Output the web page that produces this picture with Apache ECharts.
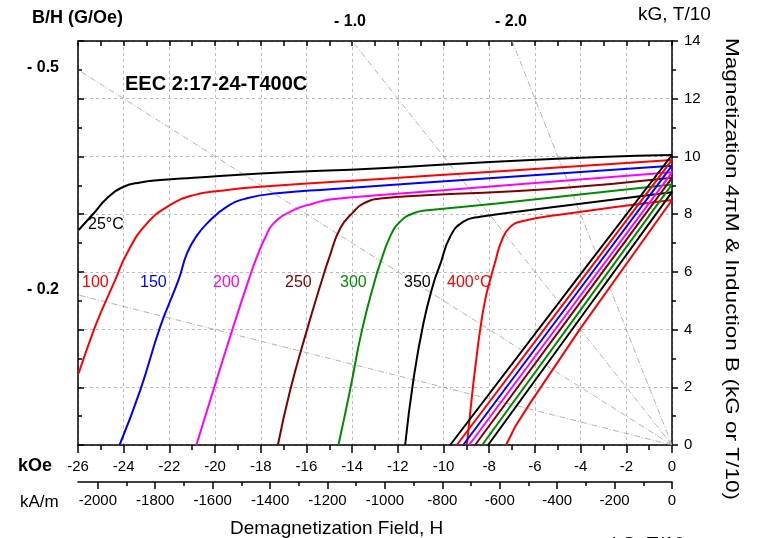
<!DOCTYPE html>
<html><head><meta charset="utf-8">
<script src="https://cdn.jsdelivr.net/npm/echarts/dist/echarts.min.js"></script>
<style>html,body{margin:0;padding:0;background:#fff}#c{width:757px;height:538px}</style>
</head><body><div id="c"></div>
<script>
// ---------- data (H in kOe, B / 4piM in kG) ----------
const temperatures = ['25°C', '100', '150', '200', '250', '300', '350', '400°C'];

// intrinsic (4πM) demagnetization curves
const M25  = [[-25.97,7.45],[-25.31,8.03],[-24.73,8.55],[-24.0,8.95],[-23.27,9.10],[-22.4,9.18],[-20.94,9.26],[-18.02,9.41],[-12.77,9.59],[-7.96,9.81],[-3.15,9.98],[0,10.05]];
const M100 = [[-25.97,2.49],[-25.31,3.98],[-24.95,4.68],[-24.37,5.72],[-23.86,6.64],[-22.98,7.68],[-21.96,8.32],[-20.94,8.66],[-19.77,8.81],[-18.02,8.95],[-12.77,9.22],[-7.52,9.49],[0,9.88]];
const M150 = [[-24.18,0],[-23.27,1.91],[-22.4,4.10],[-21.6,5.72],[-21.23,6.64],[-20.8,7.25],[-20.35,7.68],[-19.48,8.26],[-18.6,8.55],[-17.29,8.72],[-14.96,8.86],[-7.52,9.27],[0,9.68]];
const M200 = [[-20.82,0],[-20.07,1.91],[-19.25,3.98],[-18.53,5.72],[-18.17,6.52],[-17.8,7.2],[-17.44,7.68],[-16.57,8.14],[-15.69,8.37],[-14.96,8.51],[-12.77,8.66],[-7.52,8.98],[0,9.45]];
const M250 = [[-17.25,0],[-16.71,1.91],[-15.98,3.98],[-15.32,5.72],[-15.0,6.5],[-14.52,7.51],[-13.94,8.08],[-13.5,8.37],[-12.77,8.54],[-10.59,8.66],[-5.34,8.87],[0,9.26]];
const M300 = [[-14.6,0],[-14.09,1.91],[-13.57,3.98],[-13.0,5.72],[-12.77,6.3],[-12.34,7.22],[-11.9,7.74],[-11.32,8.03],[-10.59,8.14],[-7.67,8.37],[0,9.03]];
const M350 = [[-11.68,0],[-11.32,2.25],[-10.88,4.22],[-10.44,5.6],[-10.15,6.25],[-9.71,7.22],[-9.13,7.74],[-8.4,7.91],[-6.21,8.14],[0,8.76]];
const M400 = [[-8.98,0],[-8.76,1.67],[-8.57,2.95],[-8.4,3.98],[-8.18,5.02],[-7.96,5.72],[-7.74,6.34],[-7.48,7.03],[-7.09,7.55],[-6.52,7.76],[-4.77,8.0],[0,8.49]];

// normal (B) demagnetization curves
const B25  = [[0,10.05],[-4,5.92],[-9.71,0]];
const B100 = [[0,9.88],[-4,5.68],[-9.42,0]];
const B150 = [[0,9.68],[-4,5.44],[-9.14,0]];
const B200 = [[0,9.45],[-4,5.19],[-8.88,0]];
const B250 = [[0,9.26],[-4,4.96],[-8.62,0]];
const B300 = [[0,9.03],[-4,4.68],[-8.31,0]];
const B350 = [[0,8.76],[-4,4.41],[-8.05,0]];
const B400 = [[0,8.49],[-4,4.05],[-6.21,1.45],[-6.87,0.63],[-7.26,0]];

// load lines B/H (end points, all start at origin)
const loadLineOrigin = [0, 0];
const loadLineEnds = [[-26, 5.2], [-26, 13], [-14, 14], [-7, 14]];
const loadLineLabels = ['- 0.2', '- 0.5', '- 1.0', '- 2.0'];

// axes
const kOeMin = -26, kOeMax = 0, kOeStep = 2;
const fieldMin = 0, fieldMax = 14, fieldStep = 2;
const kAmPerkOe = 79.5775;
const kAmTicks = [-2000,-1800,-1600,-1400,-1200,-1000,-800,-600,-400,-200,0];
const kAmMinorTicks = [-1900,-1700,-1500,-1300,-1100,-900,-700,-500,-300,-100];

// ---------- styles ----------
const colors = ['#000000','#ff0000','#0000ff','#ff00ff','#800000','#008a00','#000000','#ff0000'];
const intrinsic = [M25,M100,M150,M200,M250,M300,M350,M400];
const normal = [B25,B100,B150,B200,B250,B300,B350,B400];
const FONT = 'Liberation Sans, Arial, sans-serif';

const chart = echarts.init(document.getElementById('c'), null, {renderer:'canvas'});

const series = [];
loadLineEnds.forEach(function(e){
  series.push({type:'line', data:[loadLineOrigin, e], symbol:'none', silent:true, z:1,
    lineStyle:{color:'#a0a0a0', width:0.8, type:[6,2,1,2]}});
});
intrinsic.forEach(function(d,i){
  series.push({type:'line', name:temperatures[i], data:d, symbol:'none', smooth:0.5, z:3,
    lineStyle:{color:colors[i], width:2}});
});
normal.forEach(function(d,i){
  series.push({type:'line', name:temperatures[i]+' B', data:d, symbol:'none', z:3,
    lineStyle:{color:colors[i], width:2}});
});

const axLine = {show:true, onZero:false, lineStyle:{color:'#000', width:1.5}};
const tickStyle = {color:'#000', width:1.5};
const grid = {left:78, right:85, top:41, bottom:93, outerBoundsMode:'none', containLabel:false};

// text annotations
function txt(x, y, s, opt){
  return {type:'text', x:x, y:y, z:10, style:Object.assign({text:s, fill:'#000', font:'16px '+FONT, textVerticalAlign:'middle'}, opt||{})};
}
const rtitle = 'Magnetization 4πM & Induction B (kG or T/10)';
const mctx = document.createElement('canvas').getContext('2d');
mctx.font = '19px Liberation Sans';
const rW = mctx.measureText(rtitle).width;

const graphics = [
  txt(32, 18, 'B/H (G/Oe)', {font:'bold 18px '+FONT}),
  txt(350, 22, loadLineLabels[2], {font:'bold 16px '+FONT, textAlign:'center'}),
  txt(511, 22, loadLineLabels[3], {font:'bold 16px '+FONT, textAlign:'center'}),
  txt(27, 68, loadLineLabels[1], {font:'bold 16px '+FONT}),
  txt(27, 290, loadLineLabels[0], {font:'bold 16px '+FONT}),
  txt(638, 15, 'kG, T/10', {font:'19px '+FONT}),
  txt(125, 84, 'EEC 2:17-24-T400C', {font:'bold 20px '+FONT}),
  txt(18, 466, 'kOe', {font:'bold 18px '+FONT}),
  txt(20, 502, 'kA/m', {font:'17px '+FONT}),
  txt(230, 538, 'Demagnetization Field, H', {font:'19px '+FONT, textVerticalAlign:'bottom'}),
  txt(612, 535, 'kG, T/10', {font:'19px '+FONT, textVerticalAlign:'top'}),
  txt(88, 225, temperatures[0], {fill:colors[0]}),
  txt(82, 283, temperatures[1], {fill:colors[1]}),
  txt(140, 283, temperatures[2], {fill:colors[2]}),
  txt(213, 283, temperatures[3], {fill:colors[3]}),
  txt(285, 283, temperatures[4], {fill:colors[4]}),
  txt(340, 283, temperatures[5], {fill:colors[5]}),
  txt(404, 283, temperatures[6], {fill:colors[6]}),
  txt(447, 283, temperatures[7], {fill:colors[7]}),
  {type:'text', x:731, y:269, rotation:-Math.PI/2, scaleX:462/rW, z:10,
   style:{text:rtitle, fill:'#000', font:'19px '+FONT, textAlign:'center', textVerticalAlign:'middle'}}
];

chart.setOption({
  animation:false,
  backgroundColor:'#fff',
  grid:grid,
  xAxis:[
    {type:'value', min:kOeMin, max:kOeMax, interval:kOeStep, position:'bottom',
     axisLine:axLine, axisTick:{show:true, length:8, lineStyle:tickStyle},
     minorTick:{show:true, splitNumber:2, length:5, lineStyle:tickStyle},
     axisLabel:{color:'#000', fontSize:15, fontFamily:FONT, margin:14, showMinLabel:true, showMaxLabel:true},
     splitLine:{show:true, lineStyle:{color:'#bdbdbd', width:1, type:[3,3]}}},
    {type:'value', min:kOeMin, max:kOeMax, interval:kOeStep, position:'top',
     axisLine:axLine, axisTick:{show:true, inside:true, length:5, lineStyle:tickStyle},
     minorTick:{show:true, splitNumber:2, length:5, lineStyle:tickStyle},
     axisLabel:{show:false}, splitLine:{show:false}},
    {type:'value', min:kOeMin*kAmPerkOe, max:kOeMax, position:'bottom', offset:37,
     axisLine:axLine, axisTick:{show:true, length:7, customValues:kAmTicks, lineStyle:tickStyle},
     axisLabel:{color:'#000', fontSize:15, fontFamily:FONT, margin:11, customValues:kAmTicks,
                formatter:function(v){return String(v);}},
     splitLine:{show:false}, minorTick:{show:false}},
    {type:'value', min:kOeMin*kAmPerkOe, max:kOeMax, position:'bottom', offset:37,
     axisLine:{show:false, onZero:false}, axisTick:{show:true, length:4, customValues:kAmMinorTicks, lineStyle:tickStyle},
     axisLabel:{show:false}, splitLine:{show:false}}
  ],
  yAxis:[
    {type:'value', min:fieldMin, max:fieldMax, interval:fieldStep, position:'right',
     axisLine:axLine, axisTick:{show:true, length:6, lineStyle:tickStyle},
     minorTick:{show:true, splitNumber:2, length:4, lineStyle:tickStyle},
     axisLabel:{color:'#000', fontSize:15, fontFamily:FONT, margin:12},
     splitLine:{show:true, lineStyle:{color:'#bdbdbd', width:1, type:[3,3]}}},
    {type:'value', min:fieldMin, max:fieldMax, interval:fieldStep, position:'left',
     axisLine:axLine, axisTick:{show:true, inside:true, length:6, lineStyle:tickStyle},
     minorTick:{show:true, splitNumber:2, length:4, lineStyle:tickStyle},
     axisLabel:{show:false}, splitLine:{show:false}}
  ],
  series:series,
  graphic:graphics
});
</script></body></html>
